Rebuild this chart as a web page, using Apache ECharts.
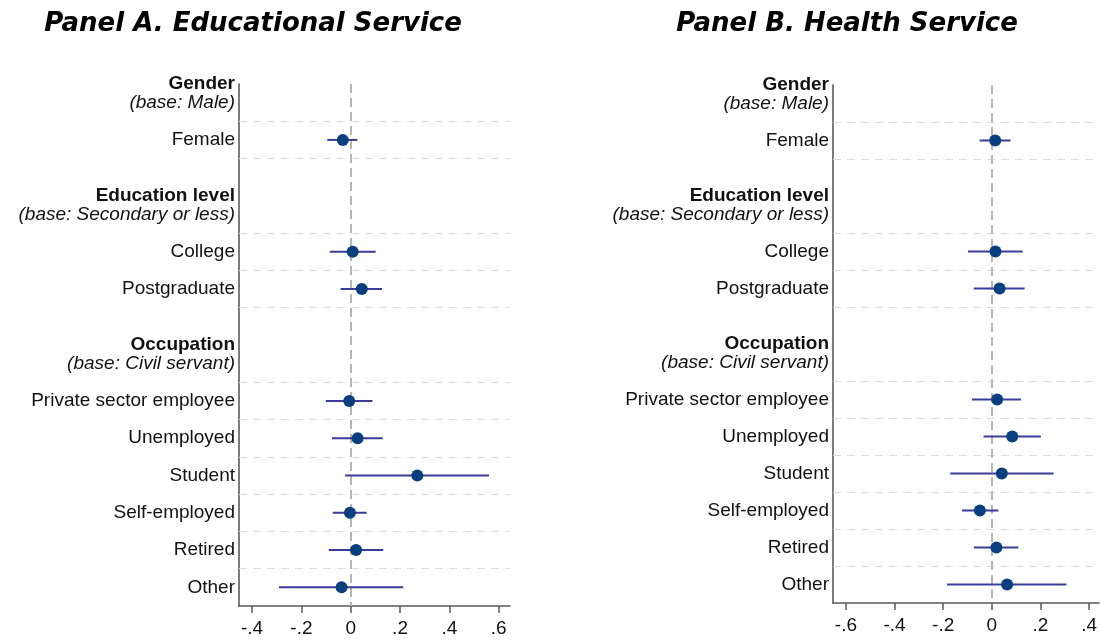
<!DOCTYPE html>
<html>
<head>
<meta charset="utf-8">
<script src="https://cdn.jsdelivr.net/npm/echarts@6/dist/echarts.min.js"></script>
<style>
  html, body { margin: 0; padding: 0; background: #ffffff; }
  #chart { width: 1100px; height: 641px; }
</style>
</head>
<body>
<div id="chart"></div>
<script>
// Row layout, top to bottom: group headers, coefficient rows and blank spacer rows
const rowNames = ['Gender', 'Female', '', 'Education level', 'College', 'Postgraduate', '',
  'Occupation', 'Private sector employee', 'Unemployed', 'Student', 'Self-employed', 'Retired', 'Other'];
const groupNames = ['Gender', 'Education level', 'Occupation'];
const groupBases = ['(base: Male)', '(base: Secondary or less)', '(base: Civil servant)'];
const coefNames = ['Female', 'College', 'Postgraduate', 'Private sector employee', 'Unemployed',
  'Student', 'Self-employed', 'Retired', 'Other'];

// Panel A: educational service — point estimates and confidence bounds
const eduEst  = [-0.032, 0.008, 0.045, -0.006, 0.028, 0.270, -0.003, 0.022, -0.037];
const eduLow  = [-0.095, -0.085, -0.041, -0.101, -0.076, -0.023, -0.073, -0.089, -0.291];
const eduHigh = [0.027, 0.101, 0.127, 0.088, 0.130, 0.561, 0.065, 0.132, 0.213];

// Panel B: health service — point estimates and confidence bounds
const healthEst  = [0.014, 0.015, 0.032, 0.022, 0.084, 0.041, -0.049, 0.019, 0.063];
const healthLow  = [-0.050, -0.098, -0.074, -0.082, -0.034, -0.171, -0.123, -0.074, -0.184];
const healthHigh = [0.077, 0.127, 0.135, 0.120, 0.202, 0.254, 0.027, 0.109, 0.307];

// Axis tick labels and axis extents
const eduTicks = [-0.4, -0.2, 0, 0.2, 0.4, 0.6];
const healthTicks = [-0.6, -0.4, -0.2, 0, 0.2, 0.4];
const eduRange = [-0.453, 0.646];
const healthRange = [-0.653, 0.441];

const LABEL_FONT = 'Liberation Sans, Arial, sans-serif';
const TITLE_FONT = 'DejaVu Sans, sans-serif';
const DOT_COLOR = '#0a3f7f';
const CI_COLOR = '#3b3b9c';
const AXIS_COLOR = '#5a5a5a';

const rowOf = name => rowNames.indexOf(name) + 0.5;
const coefRows = coefNames.map(rowOf);

// Dashed separators sit directly above and below each coefficient row
const separators = [];
coefRows.forEach(y => {
  [y - 0.5, y + 0.5].forEach(b => {
    if (b < rowNames.length && separators.indexOf(b) < 0) separators.push(b);
  });
});

// Row labels sit at row centres; the two axis ends carry blank placeholders
// so that the first and last real labels are never dropped as min/max labels
const labelRows = [0].concat(
  rowNames.map((n, i) => n ? i + 0.5 : null).filter(v => v !== null),
  [rowNames.length]
);

// Stata-style tick text: -.4, -.2, 0, .2 ...
function tickText(v) {
  if (Math.abs(v) < 1e-9) return '0';
  return (v < 0 ? '-' : '') + Math.abs(v).toFixed(1).replace(/^0/, '');
}

// Group headers: bold title above, italic base category on the row itself
function rowText(v) {
  if (Number.isInteger(v)) return ' ';
  const name = rowNames[Math.floor(v)];
  const g = groupNames.indexOf(name);
  if (g >= 0) return '{h|' + name + '}\n{b|' + groupBases[g] + '}\n{s| }';
  return '{n|' + name + '}';
}

const richRows = {
  h: { fontFamily: LABEL_FONT, fontWeight: 'bold', fontSize: 19, lineHeight: 19, color: '#111', align: 'right' },
  b: { fontFamily: LABEL_FONT, fontStyle: 'italic', fontSize: 19, lineHeight: 19, color: '#111', align: 'right' },
  s: { fontFamily: LABEL_FONT, fontSize: 19, lineHeight: 19, align: 'right' },
  n: { fontFamily: LABEL_FONT, fontSize: 19, lineHeight: 19, color: '#111', align: 'right' }
};

function xAxisFor(idx, range, ticks) {
  return {
    type: 'value', gridIndex: idx, position: 'bottom', min: range[0], max: range[1],
    axisLine: { show: true, onZero: false, lineStyle: { color: AXIS_COLOR, width: 1.6 } },
    axisTick: { show: true, length: 7, customValues: ticks, lineStyle: { color: AXIS_COLOR, width: 1.5 } },
    axisLabel: { customValues: ticks, formatter: tickText, margin: 13, fontFamily: LABEL_FONT, fontSize: 19, color: '#111' },
    splitLine: { show: false }
  };
}

function yAxisFor(idx) {
  return {
    type: 'value', gridIndex: idx, position: 'left', min: 0, max: rowNames.length, inverse: true,
    axisLine: { show: true, onZero: false, lineStyle: { color: AXIS_COLOR, width: 1.6 } },
    axisTick: { show: false },
    splitLine: { show: false },
    axisLabel: {
      customValues: labelRows, formatter: rowText, margin: 4, rich: richRows,
      showMinLabel: false, showMaxLabel: false, hideOverlap: false
    }
  };
}

function ciItem(params, api) {
  const y = api.value(2);
  const p1 = api.coord([api.value(0), y]);
  const p2 = api.coord([api.value(1), y]);
  return {
    type: 'line',
    shape: { x1: p1[0], y1: p1[1], x2: p2[0], y2: p2[1] },
    style: { stroke: CI_COLOR, lineWidth: 2 }
  };
}

function panelSeries(idx, est, low, high) {
  return [
    {
      type: 'custom', xAxisIndex: idx, yAxisIndex: idx, z: 3, silent: true,
      renderItem: ciItem,
      encode: { x: [0, 1], y: 2 },
      data: coefRows.map((y, i) => [low[i], high[i], y])
    },
    {
      type: 'scatter', xAxisIndex: idx, yAxisIndex: idx, z: 4, silent: true,
      symbol: 'circle', symbolSize: 12,
      itemStyle: { color: DOT_COLOR, opacity: 1 },
      data: coefRows.map((y, i) => [est[i], y]),
      markLine: {
        z: 1, silent: true, symbol: 'none', animation: false,
        label: { show: false },
        data: separators.map(b => ({ yAxis: b, lineStyle: { color: '#dcdcdc', type: [8, 6], width: 1 } }))
          .concat([{ xAxis: 0, lineStyle: { color: '#b5b5b5', type: [9, 5], width: 2 } }])
      }
    }
  ];
}

function titleFor(left, panel, name) {
  return {
    left: left, top: 6, textAlign: 'center',
    text: '{p|' + panel + '} {i|' + name + '}',
    textStyle: {
      fontFamily: TITLE_FONT, fontSize: 26, fontStyle: 'italic',
      rich: {
        p: { fontFamily: TITLE_FONT, fontSize: 26, fontWeight: 'bold', fontStyle: 'italic', color: '#000' },
        i: { fontFamily: TITLE_FONT, fontSize: 26, fontStyle: 'italic', color: '#000' }
      }
    }
  };
}

const chart = echarts.init(document.getElementById('chart'), null, { renderer: 'canvas' });
chart.setOption({
  animation: false,
  backgroundColor: '#ffffff',
  title: [
    titleFor(248, 'Panel A.', 'Educational Service'),
    titleFor(842, 'Panel B.', 'Health Service')
  ],
  grid: [
    { left: 239, top: 84, width: 271, height: 522 },
    { left: 833, top: 85, width: 267, height: 518 }
  ],
  xAxis: [xAxisFor(0, eduRange, eduTicks), xAxisFor(1, healthRange, healthTicks)],
  yAxis: [yAxisFor(0), yAxisFor(1)],
  series: panelSeries(0, eduEst, eduLow, eduHigh).concat(panelSeries(1, healthEst, healthLow, healthHigh))
});
</script>
</body>
</html>
